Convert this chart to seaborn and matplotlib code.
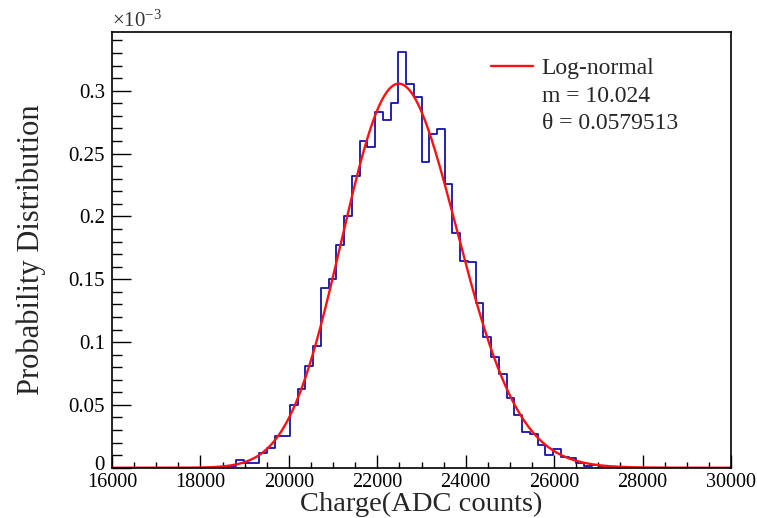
import numpy as np
import pandas as pd
import matplotlib
matplotlib.use("Agg")
import matplotlib.pyplot as plt
import matplotlib.transforms as mtransforms
import seaborn as sns
from matplotlib.lines import Line2D
from matplotlib.ticker import MultipleLocator

# ---- data ----
x_min, x_max = 16000, 30000
n_bins = 80
first_nonzero_bin = 15
# probability density per bin (x 1e-3), bins 15 .. 63
density_e3 = [
    0.001, 0.0065, 0.004, 0.004, 0.0115, 0.0154, 0.0252, 0.0252,
    0.050, 0.063, 0.081, 0.097, 0.143, 0.150, 0.177, 0.200,
    0.2325, 0.2604, 0.2556, 0.2834, 0.2768, 0.290, 0.3307, 0.3053,
    0.2954, 0.2432, 0.2657, 0.2694, 0.2262, 0.1866, 0.1647, 0.1635,
    0.131, 0.1038, 0.0879, 0.0744, 0.0553, 0.042, 0.0282, 0.0268,
    0.0181, 0.0104, 0.0146, 0.0088, 0.0075, 0.004, 0.0015, 0.002,
    0.001,
]
# log-normal fit parameters (shown in the legend)
fit_m = 10.024
fit_theta = 0.0579513
legend_labels = ["Log-normal", "m = 10.024", "\u03b8 = 0.0579513"]
x_label = "Charge(ADC counts)"
y_label = "Probability Distribution"

# ---- build arrays ----
edges = np.linspace(x_min, x_max, n_bins + 1)
centers = 0.5 * (edges[:-1] + edges[1:])
dens = np.zeros(n_bins)
dens[first_nonzero_bin:first_nonzero_bin + len(density_e3)] = np.array(density_e3) * 1e-3
hist_df = pd.DataFrame({"charge": centers, "density": dens})

xf = np.linspace(x_min, x_max, 1500)
pdf = np.exp(-(np.log(xf) - fit_m) ** 2 / (2 * fit_theta ** 2)) / (xf * fit_theta * np.sqrt(2 * np.pi))
fit_df = pd.DataFrame({"charge": xf, "pdf": pdf})

# ---- style ----
sns.set_theme(style="white")
plt.rcParams["font.family"] = ["Liberation Serif", "DejaVu Serif"]
plt.rcParams["mathtext.fontset"] = "custom"
plt.rcParams["mathtext.rm"] = "Liberation Serif"
plt.rcParams["mathtext.it"] = "Liberation Serif:italic"

fig = plt.figure(figsize=(7.57, 5.18), dpi=100)
ax = fig.add_axes([0.148, 0.097, 0.8177, 0.8418])

blue = "#1414a8"
red = "#ff1010"

sns.histplot(data=hist_df, x="charge", weights="density", bins=edges.tolist(),
             element="step", fill=False, color=blue, linewidth=1.3, ax=ax)
sns.lineplot(data=fit_df, x="charge", y="pdf", color=red, linewidth=1.7, ax=ax)

ax.set_xlim(x_min, x_max)
ax.set_ylim(0, 0.347e-3)

ax.xaxis.set_minor_locator(MultipleLocator(500))
ax.yaxis.set_minor_locator(MultipleLocator(0.01e-3))

ytick_vals = np.arange(0, 0.31e-3, 0.05e-3)
ax.set_yticks(ytick_vals)
ax.set_yticklabels(["0", "0.05", "0.1", "0.15", "0.2", "0.25", "0.3"])
xtick_vals = np.arange(x_min, x_max + 1, 2000)
ax.set_xticks(xtick_vals)
ax.set_xticklabels([str(int(v)) for v in xtick_vals])

ax.tick_params(axis="both", which="both", direction="in", colors="black",
               top=False, right=False, bottom=True, left=True)
ax.tick_params(axis="y", which="major", length=13.5, width=1.0, pad=5, labelsize=15)
ax.tick_params(axis="y", which="minor", length=7, width=1.0)
ax.tick_params(axis="x", which="major", length=9.5, width=1.0, pad=4, labelsize=14.5)
ax.tick_params(axis="x", which="minor", length=4.5, width=1.0)

# nudge the "0" y label slightly up so it does not collide with "16000"
zero_lbl = ax.yaxis.get_major_ticks()[0].label1
zero_lbl.set_transform(zero_lbl.get_transform() +
                       mtransforms.ScaledTranslation(0, 3.5 / 72, fig.dpi_scale_trans))

for s in ax.spines.values():
    s.set_visible(True)
    s.set_color("black")
    s.set_linewidth(1.2)

ax.set_xlabel(x_label, fontsize=20.5, labelpad=-0.5)
ax.set_ylabel(y_label, fontsize=22, labelpad=16)

ax.text(0.0, 0.999, r"$\times$10$^{-3}$", transform=ax.transAxes,
        ha="left", va="bottom", fontsize=15, color="#333333")

handles = [Line2D([], [], color=red, linewidth=1.7),
           Line2D([], [], color="none"),
           Line2D([], [], color="none")]
leg = ax.legend(handles, legend_labels, loc="upper left",
                bbox_to_anchor=(0.612, 0.94), frameon=False,
                fontsize=17, handlelength=1.8, handletextpad=0.35,
                labelspacing=0.25, borderpad=0.0, borderaxespad=0.0)

fig.savefig("out.png", dpi=100, facecolor="white")
